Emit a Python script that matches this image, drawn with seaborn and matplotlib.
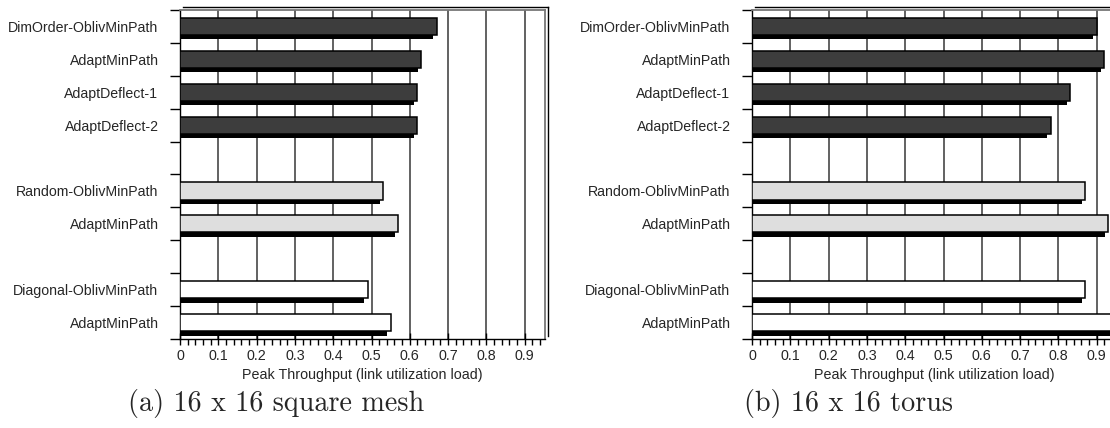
import matplotlib
matplotlib.use("Agg")
import matplotlib.pyplot as plt
import matplotlib.patheffects as pe
from matplotlib.ticker import FixedLocator, MultipleLocator, FuncFormatter
import seaborn as sns
import pandas as pd

# ---- data ----
labels = ["DimOrder-OblivMinPath", "AdaptMinPath", "AdaptDeflect-1", "AdaptDeflect-2",
          "Random-OblivMinPath", "AdaptMinPath",
          "Diagonal-OblivMinPath", "AdaptMinPath"]
groups = ["DimOrder", "DimOrder", "DimOrder", "DimOrder",
          "Random", "Random",
          "Diagonal", "Diagonal"]
mesh_throughput = [0.67, 0.63, 0.62, 0.62, 0.53, 0.57, 0.49, 0.55]
torus_throughput = [0.90, 0.92, 0.83, 0.78, 0.87, 0.93, 0.87, 0.95]
group_colors = {"DimOrder": "#3d3d3d", "Random": "#dedede", "Diagonal": "#ffffff"}
captions = ["(a) 16 x 16 square mesh", "(b) 16 x 16 torus"]
xlabel = "Peak Throughput (link utilization load)"
xticks = [0, 0.1, 0.2, 0.3, 0.4, 0.5, 0.6, 0.7, 0.8, 0.9]

# slot layout: a blank slot between groups
slots, slot_labels = [], []
prev = None
for i, (lab, g) in enumerate(zip(labels, groups)):
    if prev is not None and g != prev:
        slots.append(f"blank{i}")
        slot_labels.append("")
    slots.append(f"s{i}")
    slot_labels.append(lab)
    prev = g
keys = [f"s{i}" for i in range(len(labels))]

sns.set_style("white")
plt.rcParams["font.family"] = ["Liberation Sans", "DejaVu Sans"]

W, H, DPI = 1110, 428, 100
fig = plt.figure(figsize=(W / DPI, H / DPI), dpi=DPI)

ax_w = 365 / W
ax_b = (H - 339) / H
ax_h = 329 / H
lefts = [180 / W, 752 / W]

for k, (vals, cap) in enumerate(zip([mesh_throughput, torus_throughput], captions)):
    ax = fig.add_axes([lefts[k], ax_b, ax_w, ax_h])
    df = pd.DataFrame({"key": keys, "value": vals, "group": groups})
    sns.barplot(data=df, x="value", y="key", hue="group", order=slots,
                palette=group_colors, dodge=False, legend=False, width=0.52,
                edgecolor="black", linewidth=1.1, saturation=1, ax=ax, zorder=3)
    for p in ax.patches:
        p.set_path_effects([pe.SimplePatchShadow(offset=(-2.4, -3.2), shadow_rgbFace="black", alpha=1.0),
                            pe.Normal()])
    ax.set_xlim(0, 0.953)
    ax.set_ylim(len(slots) - 0.5, -0.5)
    ax.xaxis.set_major_locator(FixedLocator(xticks))
    ax.xaxis.set_major_formatter(FuncFormatter(lambda v, pos: f"{v:g}"))
    ax.xaxis.set_minor_locator(MultipleLocator(0.02))
    ax.set_yticks(range(len(slots)))
    ax.set_yticklabels(slot_labels)
    ax.yaxis.set_minor_locator(FixedLocator([i - 0.5 for i in range(len(slots) + 1)]))
    ax.tick_params(axis="y", which="major", length=0, pad=15.5, labelsize=10.2)
    ax.tick_params(axis="y", which="minor", left=True, direction="out", length=7, width=1, color="black")
    ax.tick_params(axis="x", which="major", bottom=True, direction="inout", length=9, width=1,
                   color="black", labelsize=10.3, pad=3)
    ax.tick_params(axis="x", which="minor", bottom=True, direction="out", length=4, width=1, color="black")
    ax.grid(axis="x", which="major", color="#555555", linewidth=1.3, zorder=0)
    ax.grid(axis="y", visible=False)
    ax.set_axisbelow(True)
    ax.set_xlabel(xlabel, fontsize=10.3, labelpad=3)
    ax.set_ylabel("")
    for side in ["left", "bottom"]:
        ax.spines[side].set_color("black")
        ax.spines[side].set_linewidth(1.0)
    for side in ["top", "right"]:
        ax.spines[side].set_color("#777777")
        ax.spines[side].set_linewidth(1.3)
        ax.spines[side].set_path_effects([
            pe.SimpleLineShadow(offset=(2.2, 2.2), shadow_color="black", alpha=1.0, linewidth=1.0),
            pe.Normal()])
    fig.text((276 + 572 * k) / W, 1 - 404 / H, cap, fontfamily="cmr10", fontsize=20.3,
             ha="center", va="center")

fig.savefig("out.png", dpi=DPI)
